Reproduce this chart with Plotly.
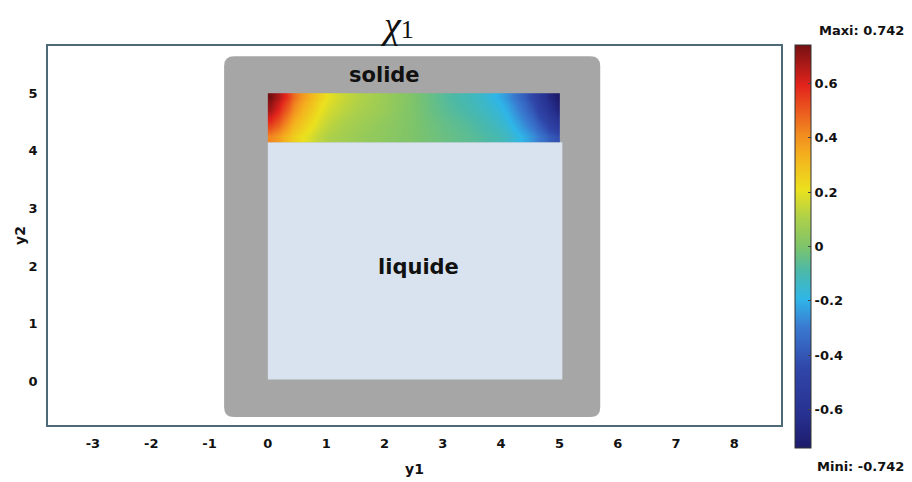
import plotly.graph_objects as go

# ---- data ----
# field chi1 in the solid strip; x/y are cell edges
sol_x_edges = [0.0, 0.1, 0.25, 0.45, 0.75, 1.05, 1.55, 2.2, 2.8, 3.45, 3.95, 4.25, 4.55, 4.75, 4.9, 5.0]
sol_y_edges = [4.15, 4.35, 4.6, 4.85, 5.0]
chi_z = [
    [0.42, 0.38, 0.30, 0.21, 0.13, 0.08, 0.04, 0.0, -0.04, -0.08, -0.13, -0.21, -0.30, -0.38, -0.42],
    [0.56, 0.50, 0.39, 0.27, 0.17, 0.10, 0.05, 0.0, -0.05, -0.10, -0.17, -0.27, -0.39, -0.50, -0.56],
    [0.68, 0.60, 0.48, 0.33, 0.21, 0.13, 0.07, 0.0, -0.07, -0.13, -0.21, -0.33, -0.48, -0.60, -0.68],
    [0.74, 0.67, 0.55, 0.38, 0.25, 0.15, 0.08, 0.0, -0.08, -0.15, -0.25, -0.38, -0.55, -0.67, -0.74],
]
z_min, z_max = -0.742, 0.742
cb_ticks = [-0.6, -0.4, -0.2, 0, 0.2, 0.4, 0.6]
cb_labels = ["-0.6", "-0.4", "-0.2", "0", "0.2", "0.4", "0.6"]
x_ticks = [-3, -2, -1, 0, 1, 2, 3, 4, 5, 6, 7, 8]
x_labels = ["-3", "-2", "-1", "0", "1", "2", "3", "4", "5", "6", "7", "8"]
y_ticks = [0, 1, 2, 3, 4, 5]

# geometry of domains
frame_x = [-0.75, 5.7]
frame_y = [-0.62, 5.64]
liquid_x = [0.0, 5.05]
liquid_y = [0.03, 4.15]

rainbow = [
    [0.0, "#1d1b6b"], [0.08, "#27308f"], [0.2, "#3047aa"], [0.3, "#3a7ad0"],
    [0.37, "#2fb6e8"], [0.44, "#4cb9a8"], [0.5, "#7ec46a"], [0.57, "#add04a"],
    [0.64, "#ebe11e"], [0.72, "#f4b41e"], [0.78, "#f28a20"], [0.9, "#e2231c"],
    [1.0, "#761012"],
]

FONT = "DejaVu Sans"

fig = go.Figure()

# gray rounded container
r = 0.17
x0, x1 = frame_x
y0, y1 = frame_y
path = (f"M {x0+r},{y0} L {x1-r},{y0} Q {x1},{y0} {x1},{y0+r} "
        f"L {x1},{y1-r} Q {x1},{y1} {x1-r},{y1} L {x0+r},{y1} "
        f"Q {x0},{y1} {x0},{y1-r} L {x0},{y0+r} Q {x0},{y0} {x0+r},{y0} Z")
fig.add_shape(type="path", path=path, fillcolor="#a6a6a6", line=dict(width=0), layer="below")
fig.add_shape(type="rect", x0=liquid_x[0], x1=liquid_x[1], y0=liquid_y[0], y1=liquid_y[1],
              fillcolor="#d9e3f0", line=dict(width=0), layer="below")

fig.add_trace(go.Heatmap(
    x=sol_x_edges, y=sol_y_edges, z=chi_z, zmin=z_min, zmax=z_max, zsmooth="best",
    colorscale=rainbow, showscale=True,
    colorbar=dict(
        x=1.0195, xanchor="left", xpad=0, y=0.471, yanchor="middle", ypad=0,
        lenmode="pixels", len=403, thickness=16,
        outlinewidth=1, outlinecolor="#333333",
        tickvals=cb_ticks, ticktext=cb_labels,
        ticks="inside", ticklen=3, tickcolor="#444444",
        tickfont=dict(family=FONT, size=13, color="#111111", weight="bold"),
    ),
))

fig.update_xaxes(
    range=[-3.77, 8.80], tickvals=x_ticks, ticktext=x_labels, showgrid=False, zeroline=False,
    showline=True, mirror=True, linecolor="#4d6a78", linewidth=1.5,
    ticks="", ticklabelstandoff=6, automargin=False,
    tickfont=dict(family=FONT, size=13, color="#111111", weight="bold"),
    title=dict(text="y1", standoff=14,
               font=dict(family=FONT, size=14, color="#111111", weight="bold")),
)
fig.update_yaxes(
    range=[-0.76, 5.82], tickvals=y_ticks, showgrid=False, zeroline=False,
    showline=True, mirror=True, linecolor="#4d6a78", linewidth=1.5,
    ticks="", ticklabelstandoff=6, automargin=False,
    tickfont=dict(family=FONT, size=13, color="#111111", weight="bold"),
    title=dict(text="y2", standoff=0,
               font=dict(family=FONT, size=14, color="#111111", weight="bold")),
)

bold = dict(family=FONT, color="#111111", weight="bold")
fig.add_annotation(x=2.0, y=5.31, text="solide", showarrow=False, font=dict(size=21, **bold))
fig.add_annotation(x=2.58, y=1.98, text="liquide", showarrow=False, font=dict(size=21, **bold))
fig.add_annotation(x=1.17, xref="paper", xanchor="right", y=1.04, yref="paper", yanchor="middle",
                   text="Maxi: 0.742", showarrow=False, font=dict(size=13, **bold))
fig.add_annotation(x=1.17, xref="paper", xanchor="right", y=-0.11, yref="paper", yanchor="middle",
                   text="Mini: -0.742", showarrow=False, font=dict(size=13, **bold))
fig.add_annotation(x=0.476, xref="paper", xanchor="center", y=0.995, yref="paper", yanchor="bottom",
                   text="<i>χ</i><span style='font-size:26px'>1</span>", showarrow=False,
                   font=dict(family="Liberation Serif", size=38, color="#111111"))

fig.update_layout(
    width=912, height=482,
    margin=dict(l=48, r=131, t=46, b=57),
    paper_bgcolor="white", plot_bgcolor="white",
    showlegend=False,
)

fig.write_html("out.html")
